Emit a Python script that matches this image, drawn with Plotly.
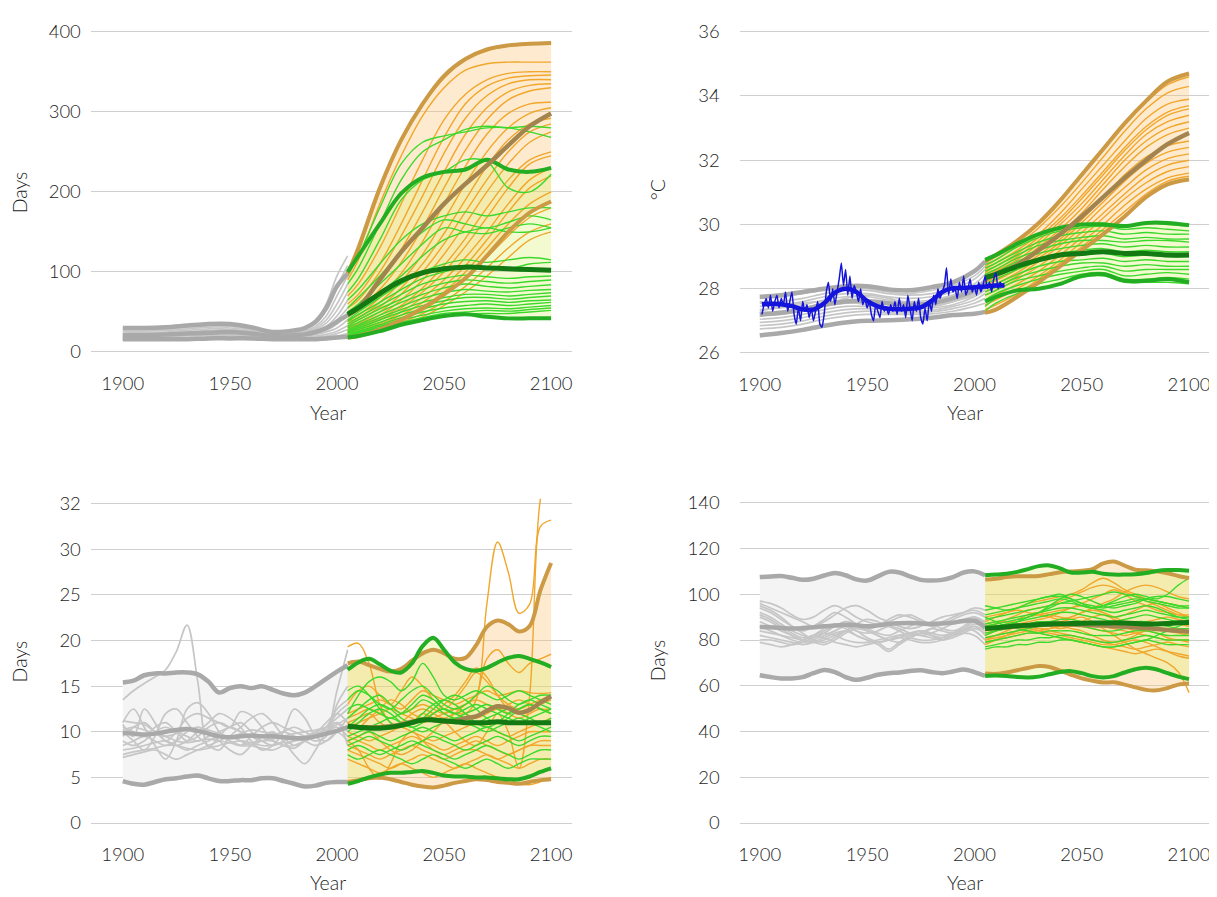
import plotly.graph_objects as go

# The page body has an 8px margin; positions below are given in screen pixels
# and converted to figure (paper) coordinates.
OFF = 8
W, H = 1217 - OFF, 897 - OFF

# ======================= Panel 1 : days (top-left) =======================
P1_HIST_YEARS = [1900, 1910, 1920, 1930, 1940, 1950, 1960, 1970, 1980, 1985, 1990, 1995, 2000, 2005]
P1_HIST_THIN = [
    [30, 29, 31, 33, 36, 36, 31, 24, 27, 30, 38, 60, 95, 120],
    [28, 28, 29, 31, 33, 34, 30, 25, 26, 29, 35, 52, 82, 108],
    [26, 26, 27, 29, 31, 32, 28, 24, 25, 27, 32, 45, 70, 95],
    [25, 24, 25, 27, 29, 30, 27, 23, 24, 26, 30, 40, 60, 85],
    [23, 23, 24, 25, 27, 28, 26, 22, 23, 25, 28, 36, 52, 75],
    [22, 22, 23, 24, 25, 26, 24, 21, 22, 23, 26, 32, 45, 65],
    [21, 21, 22, 23, 24, 25, 23, 20, 21, 22, 24, 29, 40, 55],
    [20, 20, 21, 22, 23, 23, 22, 20, 20, 21, 23, 27, 35, 48],
    [19, 19, 20, 21, 22, 22, 21, 19, 19, 20, 22, 25, 30, 40],
    [18, 18, 19, 20, 21, 21, 20, 18, 18, 19, 20, 22, 26, 33],
    [17, 17, 18, 18, 19, 19, 19, 17, 17, 18, 19, 20, 23, 28],
    [16, 16, 17, 17, 18, 18, 18, 17, 17, 17, 18, 19, 20, 23],
    [16, 16, 16, 16, 17, 17, 17, 16, 16, 16, 17, 17, 18, 20],
    [15, 15, 15, 16, 16, 16, 16, 15, 15, 16, 16, 16, 17, 18],
]
P1_HIST_MAX = [30, 30, 31, 33, 35, 35, 31, 25, 27, 30, 38, 55, 82, 98]
P1_HIST_MEAN = [21, 21, 22, 23, 24, 25, 23, 20, 21, 22, 25, 30, 38, 46]
P1_HIST_MIN = [16, 16, 16, 16, 17, 17, 17, 16, 16, 16, 16, 17, 18, 19]

P1_FUT_YEARS = [2005, 2010, 2020, 2030, 2040, 2050, 2060, 2070, 2080, 2090, 2100]
P1_RCP85_THIN = [
    [95, 125, 200, 262, 308, 342, 365, 376, 382, 385, 386],
    [90, 115, 185, 245, 295, 330, 352, 360, 362, 362, 362],
    [70, 85, 130, 185, 240, 290, 322, 340, 348, 350, 350],
    [60, 72, 110, 160, 215, 268, 310, 332, 342, 345, 346],
    [55, 65, 100, 145, 195, 248, 292, 320, 335, 340, 340],
    [50, 58, 88, 128, 175, 225, 272, 305, 325, 333, 335],
    [45, 52, 78, 112, 155, 205, 252, 290, 315, 326, 330],
    [40, 46, 68, 98, 138, 185, 232, 272, 298, 310, 312],
    [38, 43, 62, 88, 122, 165, 210, 250, 280, 298, 305],
    [35, 40, 56, 80, 110, 148, 190, 232, 265, 285, 292],
    [32, 36, 50, 72, 100, 135, 175, 215, 250, 275, 285],
    [30, 34, 46, 65, 90, 122, 160, 200, 235, 262, 275],
    [28, 32, 42, 58, 80, 108, 142, 180, 215, 240, 250],
    [27, 30, 40, 55, 75, 100, 132, 168, 205, 235, 245],
    [25, 28, 36, 50, 68, 90, 118, 150, 185, 215, 230],
    [24, 26, 34, 46, 62, 82, 108, 140, 175, 205, 220],
    [22, 25, 32, 42, 56, 75, 100, 130, 160, 185, 200],
    [21, 24, 30, 40, 52, 70, 92, 118, 145, 168, 180],
    [20, 23, 28, 37, 48, 63, 82, 105, 130, 150, 160],
    [19, 22, 26, 34, 44, 58, 75, 95, 118, 140, 150],
]
P1_RCP85_MAX = [98, 130, 205, 265, 310, 345, 366, 378, 383, 385, 386]
P1_RCP85_MEAN = [46, 55, 90, 125, 155, 185, 210, 233, 258, 282, 298]
P1_RCP85_MIN = [18, 20, 28, 40, 55, 72, 92, 120, 150, 174, 188]
P1_RCP45_THIN = [
    [95, 120, 180, 235, 262, 270, 275, 280, 280, 275, 268],
    [85, 105, 160, 215, 250, 265, 278, 282, 280, 282, 280],
    [75, 92, 140, 190, 215, 225, 240, 238, 205, 200, 222],
    [65, 78, 110, 140, 160, 170, 175, 170, 175, 180, 180],
    [55, 68, 95, 125, 150, 165, 160, 155, 162, 170, 165],
    [50, 60, 85, 110, 135, 155, 150, 148, 155, 160, 155],
    [45, 55, 75, 95, 120, 140, 150, 155, 150, 150, 155],
    [40, 50, 68, 85, 100, 110, 115, 112, 115, 118, 115],
    [38, 47, 62, 78, 92, 100, 108, 106, 104, 110, 112],
    [35, 43, 58, 72, 85, 92, 96, 94, 92, 94, 95],
    [32, 40, 54, 66, 78, 86, 90, 88, 86, 88, 90],
    [30, 37, 50, 62, 72, 80, 85, 82, 80, 82, 84],
    [28, 34, 46, 57, 67, 74, 78, 76, 75, 77, 78],
    [26, 32, 43, 53, 62, 68, 72, 72, 70, 72, 74],
    [25, 30, 40, 50, 58, 64, 68, 68, 66, 68, 70],
    [24, 28, 37, 46, 54, 60, 63, 64, 62, 64, 65],
    [22, 26, 34, 43, 50, 55, 58, 60, 58, 60, 62],
    [21, 25, 32, 40, 46, 51, 54, 55, 54, 56, 58],
    [20, 24, 30, 37, 43, 48, 50, 52, 51, 53, 55],
    [19, 22, 28, 34, 40, 45, 47, 48, 48, 50, 52],
]
P1_RCP45_MAX = [100, 120, 160, 198, 218, 225, 228, 240, 228, 225, 230]
P1_RCP45_MEAN = [47, 55, 73, 89, 99, 104, 106, 105, 104, 103, 102]
P1_RCP45_MIN = [18, 20, 26, 34, 40, 45, 47, 44, 42, 42, 42]

# ======================= Panel 2 : temperature (top-right) =======================
P2_HIST_YEARS = [1900, 1910, 1920, 1930, 1940, 1950, 1960, 1970, 1980, 1990, 2000, 2005]
P2_HIST_THIN = [
    [27.70, 27.75, 27.85, 27.95, 28.02, 28.00, 27.90, 27.85, 27.95, 28.10, 28.40, 28.70],
    [27.55, 27.60, 27.70, 27.85, 27.95, 27.95, 27.85, 27.80, 27.85, 28.00, 28.30, 28.60],
    [27.45, 27.50, 27.60, 27.75, 27.85, 27.85, 27.75, 27.70, 27.75, 27.90, 28.15, 28.45],
    [27.35, 27.40, 27.50, 27.65, 27.75, 27.75, 27.65, 27.60, 27.65, 27.80, 28.05, 28.30],
    [27.25, 27.30, 27.40, 27.55, 27.65, 27.65, 27.55, 27.50, 27.55, 27.70, 27.95, 28.20],
    [27.15, 27.20, 27.30, 27.45, 27.55, 27.55, 27.50, 27.45, 27.45, 27.60, 27.85, 28.05],
    [27.05, 27.10, 27.20, 27.35, 27.45, 27.45, 27.40, 27.38, 27.40, 27.50, 27.75, 27.95],
    [26.95, 27.00, 27.10, 27.25, 27.35, 27.38, 27.33, 27.30, 27.33, 27.45, 27.65, 27.85],
    [26.85, 26.90, 27.00, 27.15, 27.25, 27.30, 27.25, 27.25, 27.28, 27.38, 27.55, 27.70],
    [26.75, 26.80, 26.90, 27.05, 27.15, 27.20, 27.20, 27.20, 27.22, 27.30, 27.45, 27.55],
    [27.60, 27.50, 27.40, 27.50, 27.70, 27.80, 27.70, 27.55, 27.60, 27.75, 28.00, 28.25],
    [27.30, 27.45, 27.55, 27.60, 27.60, 27.50, 27.40, 27.35, 27.45, 27.60, 27.80, 28.00],
]
P2_HIST_MAX = [27.75, 27.80, 27.90, 28.00, 28.08, 28.08, 27.98, 27.95, 28.05, 28.20, 28.55, 28.85]
P2_HIST_MEAN = [27.20, 27.25, 27.35, 27.50, 27.60, 27.62, 27.55, 27.50, 27.55, 27.70, 27.95, 28.20]
P2_HIST_MIN = [26.55, 26.62, 26.72, 26.85, 26.95, 27.00, 27.02, 27.05, 27.10, 27.18, 27.22, 27.28]

P2_FUT_YEARS = [2005, 2010, 2020, 2030, 2040, 2050, 2060, 2070, 2080, 2090, 2100]
P2_RCP85_THIN = [
    [28.80, 29.00, 29.45, 30.00, 30.70, 31.50, 32.30, 33.10, 33.80, 34.35, 34.60],
    [28.70, 28.90, 29.35, 29.90, 30.55, 31.30, 32.10, 32.90, 33.60, 34.10, 34.30],
    [28.60, 28.80, 29.20, 29.70, 30.35, 31.10, 31.85, 32.60, 33.30, 33.75, 33.90],
    [28.50, 28.70, 29.10, 29.60, 30.20, 30.90, 31.65, 32.40, 33.05, 33.50, 33.70],
    [28.45, 28.60, 29.00, 29.50, 30.10, 30.80, 31.55, 32.30, 32.95, 33.40, 33.60],
    [28.40, 28.55, 28.90, 29.40, 30.00, 30.65, 31.40, 32.15, 32.80, 33.20, 33.40],
    [28.30, 28.45, 28.80, 29.30, 29.85, 30.50, 31.25, 32.00, 32.60, 33.00, 33.20],
    [28.20, 28.35, 28.70, 29.15, 29.70, 30.35, 31.10, 31.80, 32.40, 32.80, 33.00],
    [28.10, 28.25, 28.60, 29.05, 29.55, 30.15, 30.85, 31.55, 32.10, 32.45, 32.60],
    [28.00, 28.15, 28.50, 28.95, 29.45, 30.05, 30.70, 31.35, 31.90, 32.25, 32.40],
    [27.90, 28.05, 28.40, 28.85, 29.35, 29.90, 30.55, 31.15, 31.70, 32.05, 32.20],
    [27.80, 27.95, 28.30, 28.70, 29.20, 29.75, 30.35, 30.95, 31.50, 31.85, 32.00],
    [27.65, 27.80, 28.15, 28.55, 29.05, 29.60, 30.20, 30.80, 31.30, 31.65, 31.80],
    [27.50, 27.65, 28.00, 28.40, 28.90, 29.45, 30.00, 30.60, 31.10, 31.45, 31.60],
    [27.35, 27.50, 27.85, 28.30, 28.80, 29.30, 29.85, 30.40, 30.95, 31.35, 31.50],
]
P2_RCP85_MAX = [28.85, 29.05, 29.50, 30.05, 30.75, 31.55, 32.35, 33.15, 33.85, 34.45, 34.70]
P2_RCP85_MEAN = [28.30, 28.45, 28.75, 29.20, 29.70, 30.25, 30.85, 31.45, 32.00, 32.50, 32.85]
P2_RCP85_MIN = [27.25, 27.35, 27.75, 28.20, 28.70, 29.20, 29.70, 30.25, 30.85, 31.25, 31.40]
P2_RCP45_THIN = [
    [28.85, 29.00, 29.40, 29.70, 29.90, 30.00, 30.05, 29.95, 30.05, 30.00, 29.95],
    [28.75, 28.90, 29.30, 29.60, 29.80, 29.90, 29.95, 29.85, 29.90, 29.85, 29.80],
    [28.65, 28.80, 29.15, 29.45, 29.65, 29.75, 29.80, 29.70, 29.75, 29.70, 29.70],
    [28.55, 28.70, 29.05, 29.35, 29.50, 29.60, 29.65, 29.55, 29.60, 29.55, 29.55],
    [28.45, 28.60, 28.95, 29.20, 29.40, 29.50, 29.50, 29.45, 29.50, 29.50, 29.45],
    [28.35, 28.50, 28.85, 29.10, 29.25, 29.35, 29.40, 29.30, 29.35, 29.30, 29.30],
    [28.25, 28.40, 28.70, 28.95, 29.10, 29.20, 29.25, 29.15, 29.20, 29.15, 29.15],
    [28.15, 28.30, 28.60, 28.85, 29.00, 29.05, 29.10, 29.00, 29.05, 29.00, 29.00],
    [28.00, 28.15, 28.45, 28.70, 28.85, 28.90, 28.95, 28.85, 28.90, 28.85, 28.85],
    [27.90, 28.05, 28.35, 28.55, 28.70, 28.80, 28.80, 28.70, 28.75, 28.70, 28.70],
    [27.80, 27.95, 28.25, 28.40, 28.55, 28.65, 28.70, 28.55, 28.60, 28.60, 28.60],
    [27.65, 27.85, 28.10, 28.30, 28.45, 28.55, 28.60, 28.40, 28.45, 28.50, 28.45],
    [27.45, 27.70, 27.95, 28.15, 28.30, 28.45, 28.50, 28.30, 28.30, 28.35, 28.30],
    [27.30, 27.55, 27.85, 28.00, 28.15, 28.35, 28.40, 28.20, 28.20, 28.20, 28.15],
]
P2_RCP45_MAX = [28.90, 29.05, 29.40, 29.70, 29.90, 30.00, 30.00, 29.95, 30.05, 30.05, 29.98]
P2_RCP45_MEAN = [28.35, 28.45, 28.70, 28.90, 29.05, 29.10, 29.15, 29.10, 29.10, 29.05, 29.05]
P2_RCP45_MIN = [27.60, 27.75, 27.95, 28.00, 28.15, 28.40, 28.45, 28.25, 28.25, 28.30, 28.20]

P2_OBS_YEARS = list(range(1901, 2015))
P2_OBS = [
    27.2, 27.5, 27.7, 27.4, 27.8, 27.3, 27.6, 27.8, 27.4, 27.7,
    27.5, 27.9, 27.3, 27.6, 27.9, 27.2, 26.9, 27.4, 27.0, 27.6,
    27.3, 27.5, 27.1, 27.4, 27.0, 27.3, 27.6, 26.9, 26.8, 27.2,
    27.9, 28.2, 27.6, 28.0, 27.5, 27.9, 28.3, 28.8, 28.1, 28.6,
    27.8, 28.4, 27.7, 28.1, 27.9, 27.6, 28.0, 27.5, 27.7, 27.4,
    27.6, 27.2, 27.0, 27.5, 27.3, 27.1, 27.6, 27.3, 27.4, 27.2,
    27.5, 27.3, 27.6, 27.2, 27.7, 27.3, 27.5, 27.1, 27.8, 27.4,
    27.0, 27.6, 27.3, 27.7, 27.1, 26.9, 27.4, 27.0, 27.6, 27.3,
    27.8, 27.5, 28.0, 27.7, 27.9, 28.1, 28.65, 27.8, 28.3, 27.9,
    28.0, 27.7, 28.2, 27.9, 28.4, 27.8, 28.0, 28.3, 27.9, 28.1,
    27.8, 28.2, 27.9, 28.1, 28.4, 28.0, 28.2, 27.9, 28.3, 28.5,
    28.0, 28.2, 28.1, 28.1,
]
P2_OBS_SMOOTH_YEARS = [1901, 1905, 1910, 1915, 1920, 1925, 1930, 1935, 1940, 1945, 1950, 1955,
                       1960, 1965, 1970, 1975, 1980, 1985, 1990, 1995, 2000, 2005, 2010, 2014]
P2_OBS_SMOOTH = [27.52, 27.53, 27.52, 27.46, 27.36, 27.35, 27.55, 27.88, 28.00, 27.90, 27.62, 27.45,
                 27.38, 27.36, 27.38, 27.42, 27.62, 27.90, 28.02, 28.02, 28.05, 28.07, 28.10, 28.10]

# ======================= Panel 3 : days (bottom-left) =======================
P3_HIST_YEARS = list(range(1900, 2006, 5))
P3_HIST_THIN = [
    [13.5, 14.5, 15.3, 16.0, 16.8, 18.8, 21.7, 15.5, 8.3, 9.5, 10.5, 10.0, 9.5, 9.0, 9.5, 10.0, 9.5, 9.0, 9.8, 11.0, 12.0, 11.0],
    [10.5, 10.0, 9.5, 10.5, 11.0, 10.0, 9.0, 9.5, 10.5, 11.0, 10.5, 10.0, 9.5, 9.0, 9.5, 10.0, 10.5, 10.0, 9.5, 10.0, 14.5, 19.0],
    [11.0, 12.5, 10.5, 8.5, 7.0, 9.0, 12.5, 13.2, 12.0, 10.0, 9.0, 8.5, 9.5, 10.5, 11.0, 10.5, 10.0, 9.5, 9.0, 9.5, 13.0, 15.0],
    [10.8, 9.5, 12.5, 11.0, 9.0, 10.0, 11.5, 12.0, 11.5, 11.0, 10.5, 12.2, 11.8, 10.5, 9.0, 8.5, 8.2, 9.0, 9.5, 10.5, 12.5, 13.5],
    [10.0, 9.0, 8.0, 9.5, 12.0, 12.5, 11.0, 9.5, 8.5, 8.0, 9.5, 10.5, 11.5, 12.0, 11.0, 9.5, 8.5, 9.0, 9.5, 10.5, 11.5, 12.5],
    [9.5, 10.5, 11.0, 10.0, 9.0, 8.5, 9.0, 10.0, 11.0, 12.0, 11.5, 10.5, 9.0, 8.0, 8.5, 10.0, 12.5, 11.5, 9.5, 9.0, 10.0, 11.5],
    [9.0, 8.5, 9.0, 10.0, 10.5, 10.0, 9.5, 9.0, 9.5, 10.0, 10.5, 11.0, 10.0, 9.0, 8.5, 9.0, 9.5, 9.0, 8.5, 9.0, 10.0, 10.5],
    [8.5, 9.0, 9.5, 9.0, 8.5, 9.0, 10.0, 10.5, 10.0, 9.0, 8.0, 7.5, 8.5, 9.5, 10.0, 9.0, 7.5, 6.5, 8.0, 10.0, 11.0, 10.0],
    [8.0, 8.2, 8.5, 8.8, 9.0, 8.5, 8.0, 8.5, 9.0, 9.5, 9.0, 8.5, 8.5, 9.0, 9.0, 8.5, 8.5, 9.0, 9.5, 10.0, 10.5, 9.5],
    [7.5, 7.8, 8.0, 8.2, 8.5, 8.5, 8.2, 8.0, 8.2, 8.5, 8.8, 9.0, 8.8, 8.5, 8.5, 8.8, 9.0, 9.2, 9.5, 9.8, 10.0, 9.0],
    [7.2, 7.5, 7.8, 8.0, 7.5, 7.0, 7.5, 8.0, 8.5, 9.0, 9.5, 9.0, 8.5, 8.2, 8.0, 8.5, 9.0, 9.5, 10.0, 10.5, 11.0, 8.5],
    [11.2, 11.0, 10.8, 10.0, 9.5, 9.0, 8.8, 9.0, 9.2, 9.0, 8.8, 8.5, 8.8, 9.0, 9.2, 9.5, 9.8, 10.0, 10.2, 10.5, 12.0, 13.0],
    [10.2, 10.5, 10.2, 9.8, 9.5, 9.8, 10.2, 10.5, 10.2, 9.8, 9.5, 9.8, 10.2, 10.0, 9.8, 9.5, 9.3, 9.5, 9.8, 10.2, 10.8, 11.5],
]
P3_HIST_MAX = [15.4, 15.6, 16.2, 16.4, 16.4, 16.5, 16.5, 16.3, 15.5, 14.3, 14.8, 15.0, 14.8, 15.0, 14.6, 14.2, 14.0, 14.3, 15.0, 15.8, 16.6, 17.3]
P3_HIST_MEAN = [9.9, 9.8, 9.7, 9.8, 10.0, 10.2, 10.3, 10.1, 9.8, 9.5, 9.4, 9.5, 9.6, 9.5, 9.5, 9.4, 9.3, 9.3, 9.5, 9.8, 10.1, 10.5]
P3_HIST_MIN = [4.6, 4.3, 4.2, 4.5, 4.8, 4.9, 5.1, 5.2, 4.9, 4.6, 4.6, 4.7, 4.7, 4.9, 4.9, 4.6, 4.3, 4.0, 4.1, 4.4, 4.5, 4.5]

P3_FUT_YEARS = [2005] + list(range(2010, 2101, 5))
P3_RCP85_THIN = [
    [11.0, 11.5, 12.0, 11.0, 10.5, 11.0, 12.0, 12.5, 12.0, 11.5, 12.0, 12.0, 13.5, 24.0, 30.8, 27.5, 23.0, 24.0, 32.5, 33.2],
    [9.0, 9.5, 10.0, 9.0, 8.0, 7.5, 8.0, 9.0, 10.0, 11.0, 10.0, 9.0, 8.5, 10.0, 12.0, 10.0, 6.0, 14.0, 35.5, 40.0],
    [19.3, 19.7, 17.5, 13.0, 11.0, 10.5, 11.0, 12.0, 11.5, 11.0, 12.0, 13.0, 14.0, 18.0, 19.0, 17.5, 16.5, 17.5, 18.0, 18.5],
    [12.0, 12.5, 13.0, 13.5, 13.0, 12.5, 13.5, 14.5, 14.0, 13.5, 13.0, 13.5, 14.0, 14.5, 14.0, 14.2, 14.5, 14.3, 14.2, 14.3],
    [11.5, 12.0, 12.5, 12.0, 11.5, 12.0, 12.5, 13.0, 12.5, 12.0, 12.5, 13.0, 13.5, 13.0, 12.5, 13.0, 13.5, 13.0, 12.5, 12.5],
    [10.5, 11.0, 11.5, 12.0, 12.5, 12.0, 11.5, 11.0, 11.5, 12.0, 12.5, 12.0, 11.5, 12.0, 12.5, 12.0, 11.5, 12.0, 12.5, 12.0],
    [10.0, 9.5, 9.0, 9.5, 10.0, 10.5, 10.0, 9.5, 9.0, 9.5, 10.0, 10.5, 11.0, 10.5, 10.0, 9.5, 10.0, 10.5, 11.0, 11.5],
    [9.5, 9.0, 8.5, 8.0, 8.5, 9.0, 9.5, 9.0, 8.5, 8.0, 8.5, 9.0, 9.5, 9.0, 8.5, 9.0, 9.5, 10.0, 10.0, 10.0],
    [9.0, 8.0, 6.0, 4.8, 6.5, 9.0, 10.0, 9.0, 8.0, 7.5, 8.0, 8.5, 9.0, 8.5, 8.0, 7.5, 8.0, 8.5, 9.0, 9.0],
    [8.5, 8.0, 7.5, 7.0, 7.5, 8.0, 8.5, 8.0, 7.5, 7.0, 7.5, 8.0, 8.0, 7.5, 7.0, 7.5, 8.0, 8.5, 8.5, 8.5],
    [8.0, 7.5, 7.0, 6.5, 6.0, 6.5, 7.0, 7.5, 7.0, 6.5, 6.0, 6.5, 7.0, 7.5, 7.0, 6.5, 6.0, 6.5, 7.0, 7.0],
    [7.0, 6.5, 6.0, 5.5, 6.0, 6.5, 6.0, 5.5, 5.0, 5.5, 6.0, 6.5, 6.0, 5.5, 5.0, 4.8, 4.3, 4.2, 4.5, 5.0],
    [13.0, 14.5, 15.0, 14.0, 13.0, 14.5, 16.0, 15.0, 13.5, 12.5, 13.5, 15.0, 16.5, 15.5, 14.0, 13.0, 12.5, 13.0, 13.5, 14.0],
    [11.0, 10.5, 11.5, 12.5, 13.5, 13.0, 12.0, 11.5, 12.0, 13.0, 14.0, 15.5, 17.0, 16.0, 14.0, 12.5, 12.0, 12.5, 13.0, 13.5],
]
P3_RCP85_MAX = [17.5, 17.7, 17.3, 16.9, 16.6, 16.9, 17.8, 18.6, 19.0, 18.6, 18.0, 18.1, 19.5, 21.5, 22.2, 21.8, 21.0, 21.6, 25.5, 28.5]
P3_RCP85_MEAN = [10.6, 10.5, 10.5, 10.5, 10.6, 10.8, 11.1, 11.3, 11.3, 11.1, 11.2, 11.5, 11.7, 12.3, 12.8, 12.6, 12.1, 12.4, 13.2, 13.9]
P3_RCP85_MIN = [4.5, 4.7, 4.9, 5.0, 4.8, 4.5, 4.2, 4.0, 3.9, 4.1, 4.4, 4.6, 4.8, 4.7, 4.5, 4.4, 4.3, 4.5, 4.7, 4.8]
P3_RCP45_THIN = [
    [12.0, 14.0, 15.5, 16.0, 15.5, 14.5, 15.5, 17.5, 16.0, 14.0, 13.5, 14.0, 14.5, 14.0, 13.5, 14.0, 14.5, 14.0, 13.5, 13.0],
    [13.5, 14.5, 14.0, 13.0, 12.5, 13.5, 14.5, 15.0, 14.0, 13.0, 12.5, 13.0, 14.0, 15.0, 14.5, 13.5, 13.0, 13.5, 14.0, 14.0],
    [11.5, 12.5, 13.5, 14.0, 13.0, 12.0, 12.5, 13.5, 13.0, 12.0, 11.5, 12.0, 12.5, 13.0, 12.5, 12.0, 12.5, 13.0, 12.5, 12.0],
    [10.0, 11.0, 12.0, 12.5, 12.0, 11.0, 10.5, 11.0, 12.0, 12.5, 12.0, 11.5, 11.0, 11.5, 12.0, 12.5, 12.0, 11.5, 11.0, 11.5],
    [9.5, 10.0, 10.5, 11.0, 11.5, 11.0, 10.5, 10.0, 10.5, 11.0, 11.5, 11.0, 10.5, 10.0, 10.5, 11.0, 11.5, 11.0, 10.5, 10.0],
    [9.0, 9.5, 10.0, 9.5, 9.0, 9.5, 10.0, 10.5, 10.0, 9.5, 9.0, 9.5, 10.0, 10.5, 10.0, 9.5, 9.0, 9.5, 10.0, 10.5],
    [8.5, 9.0, 9.5, 9.0, 8.5, 8.0, 8.5, 9.0, 9.5, 9.0, 8.5, 8.0, 8.5, 9.0, 9.5, 9.0, 8.5, 9.0, 9.5, 9.5],
    [8.0, 8.5, 8.0, 7.5, 8.0, 8.5, 9.0, 8.5, 8.0, 7.5, 7.0, 7.5, 8.0, 8.5, 8.0, 7.5, 7.0, 7.5, 8.0, 8.0],
    [7.5, 7.0, 7.5, 8.0, 7.5, 7.0, 6.5, 7.0, 7.5, 7.0, 6.5, 6.0, 6.5, 7.0, 6.5, 6.0, 6.5, 7.0, 7.0, 7.0],
    [12.5, 13.0, 12.5, 12.0, 11.5, 12.0, 13.0, 14.0, 13.5, 12.5, 12.0, 12.5, 13.0, 12.5, 12.0, 11.5, 11.0, 11.5, 12.0, 12.5],
    [10.5, 11.5, 12.5, 13.0, 12.5, 11.5, 11.0, 11.5, 12.5, 13.5, 14.0, 13.5, 12.5, 11.5, 11.0, 11.5, 12.5, 13.0, 12.5, 12.0],
    [14.5, 15.0, 14.0, 12.5, 11.0, 10.5, 11.0, 12.0, 13.0, 13.5, 13.0, 12.0, 11.0, 10.5, 11.0, 12.0, 13.0, 13.5, 13.0, 12.5],
]
P3_RCP45_MAX = [16.8, 17.6, 18.0, 17.4, 16.7, 16.5, 17.5, 19.4, 20.3, 19.0, 17.6, 16.9, 16.7, 17.0, 17.6, 18.1, 18.3, 18.0, 17.6, 17.1]
P3_RCP45_MEAN = [10.6, 10.5, 10.4, 10.4, 10.5, 10.7, 11.0, 11.3, 11.3, 11.2, 11.1, 11.0, 11.0, 11.0, 11.1, 11.0, 11.0, 11.0, 11.0, 11.0]
P3_RCP45_MIN = [4.3, 4.6, 5.0, 5.3, 5.5, 5.5, 5.6, 5.7, 5.5, 5.2, 5.1, 5.1, 5.0, 5.0, 4.9, 4.8, 4.8, 5.1, 5.6, 6.0]
P3_TICKVALS = [0, 5, 10, 15, 20, 25, 30, 35]
P3_TICKTEXT = ["0", "5", "10", "15", "20", "25", "30", "32"]

# ======================= Panel 4 : days (bottom-right) =======================
P4_HIST_YEARS = list(range(1900, 2006, 5))
P4_HIST_THIN = [
    [97, 96, 94, 91, 89, 90, 93, 95, 93, 90, 88, 87, 88, 90, 91, 89, 87, 88, 90, 92, 94, 93],
    [96, 94, 92, 90, 88, 86, 88, 91, 94, 95, 93, 90, 88, 86, 85, 86, 88, 90, 91, 92, 93, 91],
    [94, 92, 89, 86, 84, 86, 89, 92, 90, 87, 85, 86, 89, 91, 90, 88, 86, 87, 89, 91, 92, 90],
    [92, 90, 87, 84, 82, 81, 83, 86, 88, 87, 85, 83, 82, 84, 86, 88, 87, 85, 84, 86, 89, 88],
    [90, 88, 85, 82, 80, 82, 85, 87, 86, 84, 83, 84, 86, 85, 83, 82, 83, 85, 87, 88, 90, 87],
    [88, 86, 84, 82, 80, 79, 80, 82, 84, 86, 84, 82, 80, 79, 81, 83, 85, 84, 83, 85, 88, 86],
    [86, 84, 82, 80, 79, 80, 82, 84, 86, 84, 81, 79, 76, 79, 82, 84, 83, 82, 83, 84, 86, 84],
    [84, 83, 82, 81, 80, 79, 78, 80, 83, 85, 84, 82, 80, 81, 83, 84, 82, 80, 81, 83, 85, 83],
    [82, 81, 80, 79, 78, 79, 81, 83, 84, 82, 80, 79, 80, 82, 83, 82, 81, 80, 82, 84, 86, 82],
    [80, 80, 79, 78, 79, 81, 83, 82, 80, 79, 79, 80, 81, 82, 81, 80, 80, 81, 83, 85, 84, 80],
    [79, 78, 77, 78, 80, 82, 81, 79, 78, 77, 78, 79, 80, 81, 80, 79, 79, 80, 82, 83, 82, 78],
    [95, 93, 90, 86, 83, 80, 79, 81, 84, 87, 89, 88, 86, 84, 82, 83, 85, 87, 88, 89, 90, 88],
    [91, 89, 86, 83, 81, 82, 84, 86, 85, 82, 80, 78, 75, 78, 81, 83, 82, 81, 82, 84, 87, 85],
]
P4_HIST_MAX = [107.5, 107.8, 108.0, 107.2, 106.3, 106.8, 108.2, 109.3, 108.3, 106.5, 106.0, 107.8, 109.8, 109.5, 107.8, 106.3, 106.0, 106.3, 107.5, 109.5, 110.0, 108.3]
P4_HIST_MEAN = [85.7, 85.6, 85.3, 85.0, 85.2, 85.6, 86.0, 86.3, 86.7, 86.5, 86.0, 86.4, 87.0, 87.3, 87.4, 87.2, 87.0, 87.2, 87.6, 88.3, 88.4, 85.5]
P4_HIST_MIN = [64.6, 63.8, 63.2, 63.2, 63.8, 65.5, 66.9, 66.0, 63.8, 62.6, 63.5, 64.8, 65.5, 65.8, 66.5, 66.8, 66.0, 65.5, 66.2, 67.1, 66.0, 64.3]

P4_FUT_YEARS = [2005] + list(range(2010, 2101, 5))
P4_RCP85_THIN = [
    [88, 90, 92, 94, 96, 97, 98, 99, 100, 102, 105, 107, 105, 102, 100, 98, 97, 96, 95, 94],
    [86, 87, 89, 91, 93, 94, 95, 97, 99, 101, 103, 104, 103, 101, 99, 97, 95, 93, 91, 90],
    [84, 85, 86, 88, 90, 91, 92, 93, 94, 96, 98, 100, 102, 100, 97, 95, 93, 92, 91, 91],
    [82, 84, 86, 87, 88, 89, 90, 92, 94, 95, 94, 92, 90, 91, 93, 95, 96, 94, 92, 90],
    [80, 82, 84, 86, 87, 88, 88, 89, 90, 92, 93, 92, 90, 88, 87, 88, 89, 90, 89, 88],
    [78, 80, 82, 84, 86, 87, 86, 85, 86, 88, 90, 91, 89, 86, 84, 85, 87, 88, 87, 86],
    [83, 84, 85, 86, 86, 85, 85, 86, 87, 86, 85, 84, 83, 82, 83, 84, 85, 84, 83, 82],
    [85, 86, 86, 85, 84, 84, 85, 86, 85, 84, 82, 80, 79, 80, 82, 84, 83, 81, 80, 80],
    [80, 81, 82, 83, 84, 85, 84, 83, 82, 81, 80, 79, 78, 77, 76, 77, 78, 79, 78, 77],
    [79, 80, 81, 82, 83, 83, 82, 81, 80, 79, 78, 77, 76, 75, 74, 75, 76, 75, 74, 73],
    [81, 82, 83, 84, 85, 84, 83, 82, 81, 80, 79, 78, 78, 79, 80, 79, 77, 75, 73, 72],
    [87, 88, 88, 87, 86, 86, 87, 88, 89, 90, 88, 85, 82, 79, 76, 74, 72, 70, 66, 57],
    [84, 85, 87, 89, 91, 92, 91, 90, 89, 88, 87, 86, 85, 84, 83, 82, 81, 80, 80, 79],
    [90, 91, 92, 93, 92, 91, 90, 89, 90, 92, 94, 96, 98, 101, 103, 104, 103, 101, 99, 98],
]
P4_RCP85_MAX = [106.4, 106.8, 107.5, 107.9, 107.9, 108.0, 108.8, 109.6, 110.0, 110.3, 111.0, 113.5, 114.3, 112.5, 110.7, 110.5, 110.0, 109.2, 108.0, 107.1]
P4_RCP85_MEAN = [85.0, 85.3, 85.6, 86.0, 86.3, 86.6, 86.8, 86.9, 86.8, 86.6, 86.5, 86.3, 86.0, 85.8, 85.5, 85.2, 84.8, 84.4, 84.0, 83.6]
P4_RCP85_MIN = [65.4, 65.2, 65.8, 66.8, 67.8, 68.6, 68.2, 66.6, 64.8, 63.2, 62.2, 61.4, 61.5, 60.5, 59.3, 58.2, 58.0, 59.0, 60.5, 61.0]
P4_RCP45_THIN = [
    [95, 94, 93, 94, 96, 98, 99, 100, 98, 96, 94, 95, 97, 99, 100, 99, 98, 100, 104, 107],
    [93, 94, 95, 96, 97, 98, 99, 99, 98, 96, 95, 94, 95, 96, 97, 98, 97, 96, 95, 95],
    [91, 92, 93, 94, 95, 96, 97, 98, 97, 95, 94, 95, 96, 97, 98, 97, 96, 95, 94, 94],
    [89, 90, 91, 92, 93, 94, 95, 96, 96, 95, 94, 93, 92, 93, 94, 95, 94, 92, 90, 89],
    [87, 88, 89, 90, 91, 92, 93, 94, 94, 93, 92, 91, 90, 91, 92, 93, 92, 91, 90, 90],
    [85, 86, 87, 88, 89, 90, 91, 92, 92, 91, 90, 89, 88, 89, 90, 91, 90, 89, 88, 88],
    [83, 84, 85, 86, 87, 88, 88, 89, 89, 88, 87, 86, 86, 87, 88, 88, 87, 86, 85, 85],
    [81, 82, 83, 84, 85, 86, 86, 87, 87, 86, 85, 84, 84, 85, 86, 86, 85, 84, 84, 84],
    [79, 80, 81, 82, 83, 83, 84, 84, 84, 83, 82, 82, 82, 83, 84, 84, 83, 82, 82, 82],
    [77, 78, 79, 80, 80, 81, 81, 82, 82, 81, 80, 79, 79, 80, 81, 82, 81, 80, 80, 80],
    [76, 77, 77, 78, 78, 79, 79, 80, 80, 79, 78, 77, 77, 78, 79, 80, 79, 78, 78, 78],
    [82, 84, 86, 88, 90, 92, 94, 96, 97, 98, 99, 100, 101, 100, 99, 98, 97, 96, 95, 94],
    [90, 88, 86, 85, 84, 83, 82, 81, 80, 79, 78, 77, 77, 78, 79, 80, 82, 84, 86, 88],
    [86, 87, 88, 89, 90, 92, 95, 98, 100, 99, 97, 95, 94, 95, 96, 98, 99, 99, 98, 97],
]
P4_RCP45_MAX = [108.3, 108.6, 109.0, 109.8, 111.0, 112.3, 112.6, 111.3, 109.5, 109.5, 109.8, 109.0, 108.6, 108.6, 108.8, 109.3, 110.2, 110.6, 110.6, 110.3]
P4_RCP45_MEAN = [85.0, 85.4, 85.8, 86.2, 86.5, 86.8, 87.0, 87.1, 87.2, 87.3, 87.4, 87.4, 87.5, 87.4, 87.2, 87.0, 87.0, 87.2, 87.5, 87.6]
P4_RCP45_MIN = [64.3, 64.5, 64.3, 63.8, 63.6, 64.0, 65.0, 66.0, 66.4, 65.5, 64.2, 63.6, 64.2, 65.8, 67.2, 67.9, 67.1, 65.5, 64.0, 62.9]

X_TICKS = [1900, 1950, 2000, 2050, 2100]

# ======================= styling =======================
FONT = "Lato, 'Open Sans', sans-serif"
TXT = "#1e1e1e"
GRID = "#cfcfcf"
GRAY_THIN = "#c6c6c6"
GRAY_THICK = "#a9a9a9"
GRAY_BAND = "#f4f4f4"
OR_THIN = "#f1a62c"
OR_THICK = "#cc9a45"
OR_MEAN = "#a3844f"
OR_BAND = "rgba(252,195,110,0.33)"
GR_THIN = "#3cd92c"
GR_THICK = "#22ad22"
GR_MEAN = "#137a13"
GR_BAND = "rgba(220,240,100,0.30)"
BLUE = "#1414dc"

fig = go.Figure()


def line(x, y, color, width, xa, ya, smooth=1.0):
    fig.add_trace(go.Scatter(
        x=x, y=y, mode="lines", xaxis=xa, yaxis=ya, hoverinfo="skip", showlegend=False,
        line=dict(color=color, width=width, shape="spline", smoothing=smooth)))


def band(x, lo, hi, color, xa, ya):
    fig.add_trace(go.Scatter(
        x=x, y=lo, mode="lines", xaxis=xa, yaxis=ya, hoverinfo="skip", showlegend=False,
        line=dict(width=0, shape="spline", color="rgba(0,0,0,0)")))
    fig.add_trace(go.Scatter(
        x=x, y=hi, mode="lines", xaxis=xa, yaxis=ya, hoverinfo="skip", showlegend=False,
        fill="tonexty", fillcolor=color,
        line=dict(width=0, shape="spline", color="rgba(0,0,0,0)")))


def panel(xa, ya, hy, hthin, hmin, hmean, hmax, fy, othin, omin, omean, omax,
          gthin, gmin, gmean, gmax, gray_band):
    if gray_band:
        band(hy, hmin, hmax, GRAY_BAND, xa, ya)
    band(fy, omin, omax, OR_BAND, xa, ya)
    band(fy, gmin, gmax, GR_BAND, xa, ya)
    for s in hthin:
        line(hy, s, GRAY_THIN, 1.7, xa, ya)
    for s in othin:
        line(fy, s, OR_THIN, 1.4, xa, ya)
    for s in gthin:
        line(fy, s, GR_THIN, 1.4, xa, ya)
    for s in (hmin, hmax, hmean):
        line(hy, s, GRAY_THICK, 4.5, xa, ya)
    for s in (omin, omax):
        line(fy, s, OR_THICK, 4, xa, ya)
    for s in (gmin, gmax):
        line(fy, s, GR_THICK, 4, xa, ya)
    line(fy, omean, OR_MEAN, 4.5, xa, ya)
    line(fy, gmean, GR_MEAN, 5, xa, ya)


panel("x", "y", P1_HIST_YEARS, P1_HIST_THIN, P1_HIST_MIN, P1_HIST_MEAN, P1_HIST_MAX,
      P1_FUT_YEARS, P1_RCP85_THIN, P1_RCP85_MIN, P1_RCP85_MEAN, P1_RCP85_MAX,
      P1_RCP45_THIN, P1_RCP45_MIN, P1_RCP45_MEAN, P1_RCP45_MAX, False)
panel("x2", "y2", P2_HIST_YEARS, P2_HIST_THIN, P2_HIST_MIN, P2_HIST_MEAN, P2_HIST_MAX,
      P2_FUT_YEARS, P2_RCP85_THIN, P2_RCP85_MIN, P2_RCP85_MEAN, P2_RCP85_MAX,
      P2_RCP45_THIN, P2_RCP45_MIN, P2_RCP45_MEAN, P2_RCP45_MAX, False)
line(P2_OBS_YEARS, P2_OBS, BLUE, 1.5, "x2", "y2", smooth=0.5)
line(P2_OBS_SMOOTH_YEARS, P2_OBS_SMOOTH, BLUE, 4.5, "x2", "y2")
panel("x3", "y3", P3_HIST_YEARS, P3_HIST_THIN, P3_HIST_MIN, P3_HIST_MEAN, P3_HIST_MAX,
      P3_FUT_YEARS, P3_RCP85_THIN, P3_RCP85_MIN, P3_RCP85_MEAN, P3_RCP85_MAX,
      P3_RCP45_THIN, P3_RCP45_MIN, P3_RCP45_MEAN, P3_RCP45_MAX, True)
panel("x4", "y4", P4_HIST_YEARS, P4_HIST_THIN, P4_HIST_MIN, P4_HIST_MEAN, P4_HIST_MAX,
      P4_FUT_YEARS, P4_RCP85_THIN, P4_RCP85_MIN, P4_RCP85_MEAN, P4_RCP85_MAX,
      P4_RCP45_THIN, P4_RCP45_MIN, P4_RCP45_MEAN, P4_RCP45_MAX, True)


# ======================= layout geometry (screen pixels -> paper) =======================
def fx(px):
    return (px - OFF) / W


def fy_(py):
    return 1 - (py - OFF) / H


TICKFONT = dict(family=FONT, size=18.5, color=TXT, weight=300)


def xaxis_cfg(px0, px1, p1900, p2100, anchor):
    s = (p2100 - p1900) / 200.0
    rng = [1900 + (px0 - p1900) / s, 1900 + (px1 - p1900) / s]
    return dict(domain=[fx(px0), min(1.0, fx(px1))], range=rng, anchor=anchor, showgrid=False,
                zeroline=False, showline=False, ticks="", tickvals=X_TICKS,
                tickfont=TICKFONT, ticklabelstandoff=15, fixedrange=True)


def yaxis_cfg(ptop, pbot, va, pa, vb, pb, anchor, tickvals, ticktext=None, standoff=9):
    s = (pa - pb) / (vb - va)
    rng = [va + (pa - pbot) / s, va + (pa - ptop) / s]
    d = dict(domain=[fy_(pbot), fy_(ptop)], range=rng, anchor=anchor, showgrid=True,
             gridcolor=GRID, gridwidth=1, zeroline=False, showline=False, ticks="",
             tickvals=tickvals, tickfont=TICKFONT, ticklabelstandoff=standoff, fixedrange=True)
    if ticktext is not None:
        d["ticktext"] = ticktext
    return d


layout = dict(
    width=W, height=H, paper_bgcolor="white", plot_bgcolor="white",
    margin=dict(l=0, r=0, t=0, b=0), showlegend=False,
    xaxis=xaxis_cfg(90, 572, 122, 551, "y"),
    xaxis2=xaxis_cfg(740, 1217, 760, 1190, "y2"),
    xaxis3=xaxis_cfg(90, 572, 122, 551, "y3"),
    xaxis4=xaxis_cfg(740, 1217, 760, 1190, "y4"),
    yaxis=yaxis_cfg(20, 354, 0, 350, 400, 25, "x", [0, 100, 200, 300, 400]),
    yaxis2=yaxis_cfg(20, 355, 26, 351, 36, 25, "x2", [26, 28, 30, 32, 34, 36], standoff=19),
    yaxis3=yaxis_cfg(499, 832, 0, 828, 35, 504, "x3", P3_TICKVALS, P3_TICKTEXT),
    yaxis4=yaxis_cfg(498, 832, 0, 828, 140, 503, "x4", [0, 20, 40, 60, 80, 100, 120, 140], standoff=19),
)


def label(text, px, py, angle=0):
    return dict(text=text, x=fx(px), y=fy_(py), xref="paper", yref="paper",
                showarrow=False, xanchor="center", yanchor="middle", textangle=angle,
                font=dict(family=FONT, size=19.5, color=TXT, weight=300))


layout["annotations"] = [
    label("Days", 18, 188, -90), label("Year", 328, 411),
    label("°C", 657, 185, -90), label("Year", 966, 411),
    label("Days", 18, 664, -90), label("Year", 328, 888),
    label("Days", 657, 663, -90), label("Year", 966, 888),
]

fig.update_layout(**layout)
fig.write_html("out.html")
